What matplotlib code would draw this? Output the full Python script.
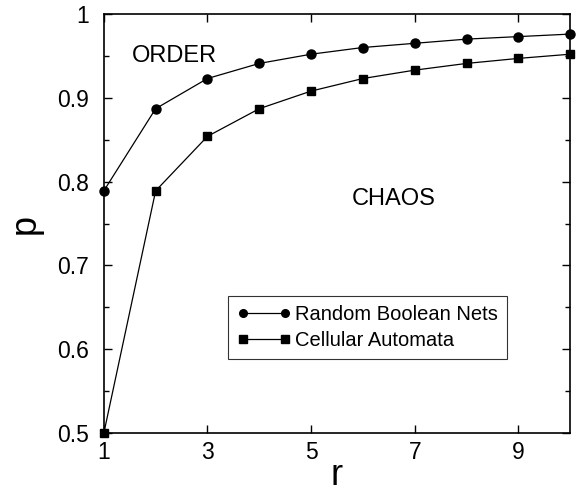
import matplotlib
matplotlib.use("Agg")
import matplotlib.pyplot as plt
from matplotlib.ticker import MultipleLocator

plt.rcParams['font.family'] = ['Liberation Sans', 'DejaVu Sans']

# donnees
r = [1, 2, 3, 4, 5, 6, 7, 8, 9, 10]
p_rbn = [0.789, 0.887, 0.923, 0.941, 0.952, 0.960, 0.965, 0.970, 0.973, 0.976]
p_ca = [0.500, 0.789, 0.854, 0.887, 0.908, 0.923, 0.933, 0.941, 0.947, 0.952]

fig = plt.figure(figsize=(5.8, 4.99), dpi=100)
ax = fig.add_axes([0.179, 0.132, 0.804, 0.840])

ax.plot(r, p_rbn, color="black", lw=0.9, marker="o", ms=6.5, label="Random Boolean Nets", clip_on=False, zorder=3)
ax.plot(r, p_ca, color="black", lw=0.9, marker="s", ms=5.5, label="Cellular Automata", clip_on=False, zorder=3)

ax.set_xlim(1, 10)
ax.set_ylim(0.5, 1.0)
ax.set_xticks([1, 3, 5, 7, 9])
ax.yaxis.set_minor_locator(MultipleLocator(0.05))
ax.set_yticks([0.5, 0.6, 0.7, 0.8, 0.9, 1.0])
ax.set_yticklabels(["0.5", "0.6", "0.7", "0.8", "0.9", "1"])

ax.tick_params(which="both", direction="in", top=True, right=True, labelsize=16.5, width=1)
ax.tick_params(which="major", length=6)
ax.tick_params(which="minor", length=3.5)
ax.tick_params(axis="x", which="major", pad=6)
ax.tick_params(axis="y", which="major", pad=11)
for s in ax.spines.values():
    s.set_linewidth(1.2)

ax.set_xlabel("r", fontsize=26, labelpad=-5)
ax.set_ylabel("p", fontsize=26, labelpad=10)

ax.text(1.54, 0.943, "ORDER", fontsize=17)
ax.text(5.78, 0.772, "CHAOS", fontsize=17)

leg = ax.legend(loc="lower left", bbox_to_anchor=(0.266, 0.177), numpoints=2, fontsize=14.5,
                frameon=True, fancybox=False, edgecolor="black", borderpad=0.45,
                handlelength=2.7, handletextpad=0.2, labelspacing=0.35, borderaxespad=0)
leg.get_frame().set_linewidth(0.8)
for h in leg.legend_handles:
    h.set_markersize(5.5)

fig.savefig("out.png", dpi=100)
